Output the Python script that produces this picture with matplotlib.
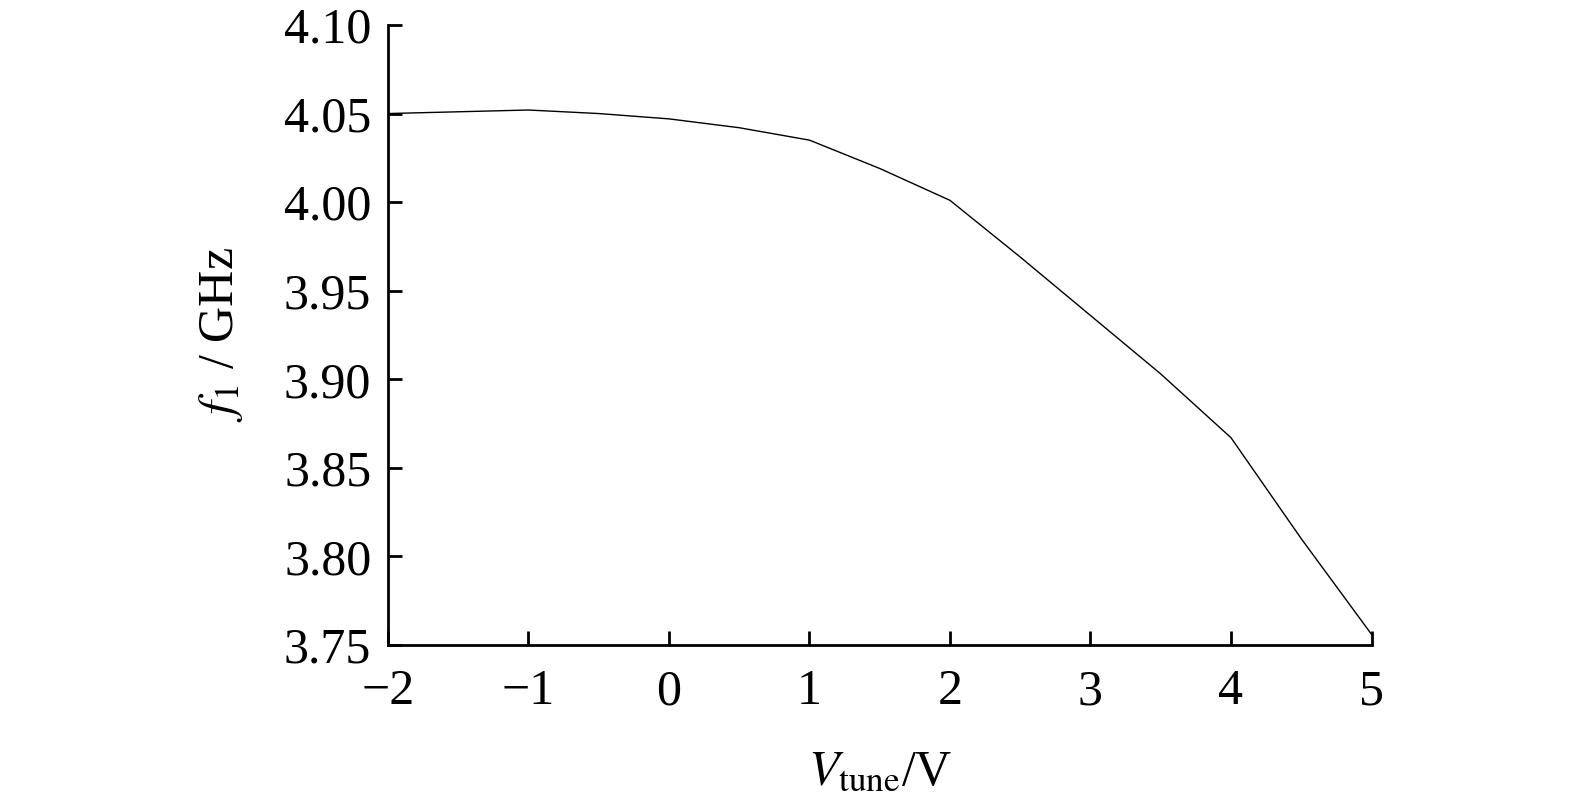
#!/usr/bin/env python3
"""Tuning curve f1 vs Vtune."""

import matplotlib
matplotlib.use('Agg')
import matplotlib.pyplot as plt

# data
v_tune = [-2.0, -1.5, -1.0, -0.5, 0.0, 0.5, 1.0, 1.5, 2.0, 2.5, 3.0, 3.5, 4.0, 4.5, 5.0]
f1_ghz = [4.050, 4.051, 4.052, 4.050, 4.047, 4.042, 4.035, 4.019, 4.001, 3.969, 3.936, 3.903, 3.867, 3.810, 3.756]

x_ticks = [-2, -1, 0, 1, 2, 3, 4, 5]
x_tick_labels = ['\u22122', '\u22121', '0', '1', '2', '3', '4', '5']
y_ticks = [3.75, 3.80, 3.85, 3.90, 3.95, 4.00, 4.05, 4.10]

plt.rcParams['font.family'] = ['Liberation Serif', 'DejaVu Serif']
plt.rcParams['mathtext.fontset'] = 'stix'

fig = plt.figure(figsize=(15.75, 8.06), dpi=100)
ax = fig.add_axes([0.2463, 0.1998, 0.6245, 0.7692])

ax.plot(v_tune, f1_ghz, color='black', linewidth=1.0)

ax.set_xlim(-2, 5)
ax.set_ylim(3.75, 4.10)
ax.set_xticks(x_ticks)
ax.set_xticklabels(x_tick_labels)
ax.set_yticks(y_ticks)
ax.set_yticklabels([f'{v:.2f}' for v in y_ticks])

for side in ['top', 'right']:
    ax.spines[side].set_visible(False)
for side in ['left', 'bottom']:
    ax.spines[side].set_linewidth(2)

ax.tick_params(direction='in', length=10, width=2, labelsize=36)
ax.tick_params(axis='x', pad=17)
ax.tick_params(axis='y', pad=12)

ax.set_xlabel(r'$V_{\mathrm{tune}}$/V', fontsize=36, labelpad=24)
ax.set_ylabel(r'$f_1$ / GHz', fontsize=36, labelpad=28)

plt.savefig('out.png', dpi=100)
plt.close()
